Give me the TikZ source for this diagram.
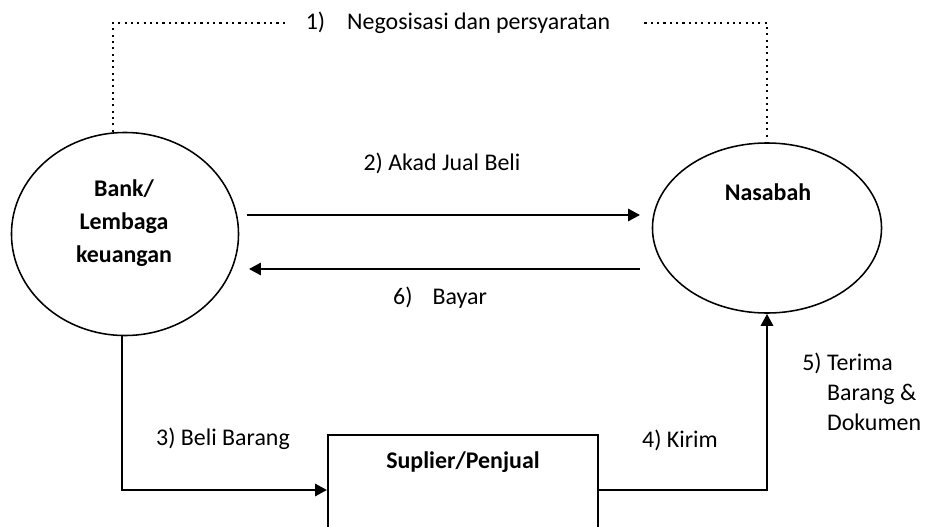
\documentclass[tikz,border=0pt]{standalone}
\usepackage{fontspec}
\setmainfont{Carlito}
\usetikzlibrary{positioning}
\usetikzlibrary{arrows.meta,shapes.geometric}
\usetikzlibrary{calc}

\tikzset{
 party/.style={draw, ellipse, line width=1.1pt, inner sep=0pt},
 shopbox/.style={draw, rectangle, line width=1.3pt, inner sep=0pt, minimum width=6.75cm, minimum height=2.75cm},
 flow/.style={line width=2pt, -{Triangle[length=8.5pt,width=8.5pt]}},
 nego/.style={line width=1.5pt, dash pattern=on 1.5pt off 3pt},
 tag/.style={inner sep=0pt, font=\fontsize{17}{21.3}\selectfont},
 title/.style={inner sep=0pt, align=center, font=\fontsize{17}{23.4}\selectfont\bfseries},
}

\begin{document}
\begin{tikzpicture}[x=0.025cm, y=-0.025cm]

 \useasboundingbox (0,0) rectangle (927,526);
 \clip (0,0) rectangle (927,526);

 %parties
 \node[party, minimum width=5.675cm, minimum height=5.075cm] (bank) at (125,234) {};
 \node[party, minimum width=5.725cm, minimum height=4.25cm] (nasabah) at (767,228) {};
 \node[shopbox] (suplier) at (463,490) {};

 \node[title] (bankname) at (124,223) {Bank/\\Lembaga\\keuangan};
 \node[title] (nasname) at (768,192) {Nasabah};
 \node[title] (supname) at (463,462) {Suplier/Penjual};

 %labels
 \node[tag] (negotext) at (458,23) {1)\hspace{0.55cm}Negosisasi dan persyaratan};
 \node[tag] (akad) at (442,163) {2) Akad Jual Beli};
 \node[tag] (bayar) at (440,298) {6)\hspace{0.5cm}Bayar};
 \node[tag] (beli) at (223,439) {3) Beli Barang};
 \node[tag] (kirim) at (680,440) {4) Kirim};
 \node[tag, align=left, anchor=west] (terima) at (802,392) {5) Terima\\\hspace{0.62cm}Barang \&\\\hspace{0.62cm}Dokumen};

 %flows
 \draw[nego] ([xshift=-0.3cm]bank.north) |- ([xshift=-0.5cm]negotext.west);
 \draw[nego, shorten >=3.5pt] ([xshift=0.85cm]negotext.east) -| (nasabah.north);

 \coordinate (akadline) at (0,215);
 \coordinate (bayarline) at (0,269);
 \draw[flow, shorten <=0.2cm, shorten >=0.29cm] (bank.east |- akadline) -- (nasabah.west |- akadline);
 \draw[flow, shorten <=0.29cm, shorten >=0.24cm] (nasabah.west |- bayarline) -- (bank.east |- bayarline);

 \draw[flow] ([xshift=-0.075cm]bank.south) |- (suplier.west);
 \draw[flow] (suplier.east) -| (nasabah.south);

\end{tikzpicture}
\end{document}
